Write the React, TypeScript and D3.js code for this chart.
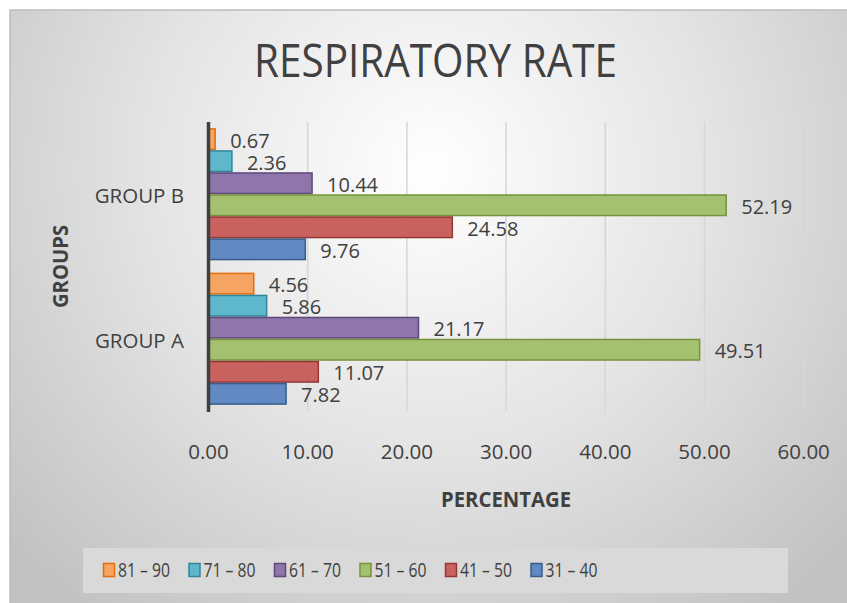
import React from "react";
import * as d3 from "d3";

const groups = ["GROUP B", "GROUP A"];
const seriesNames = ["81 – 90", "71 – 80", "61 – 70", "51 – 60", "41 – 50", "31 – 40"];
const groupB = [0.67, 2.36, 10.44, 52.19, 24.58, 9.76];
const groupA = [4.56, 5.86, 21.17, 49.51, 11.07, 7.82];
const xTicks = [0, 10, 20, 30, 40, 50, 60];
const fills = ["#F5A462", "#5FB7CC", "#8E75AB", "#A3C16E", "#C9625F", "#6189C3"];
const strokes = ["#E46C0A", "#31859C", "#5F497A", "#77933C", "#953735", "#385D8A"];

const W = 847;
const H = 603;
const FONT = "'Open Sans', 'DejaVu Sans', sans-serif";

export default function App() {
  const x = d3.scaleLinear().domain([0, 60]).range([208.5, 803.7]);
  const y0 = d3.scaleBand<string>().domain(groups).range([122, 411]).padding(0);
  const y1 = d3
    .scaleBand<string>()
    .domain(seriesNames)
    .range([0, y0.bandwidth()])
    .paddingInner(0)
    .paddingOuter(0.28);
  const dataByGroup: Record<string, number[]> = { "GROUP B": groupB, "GROUP A": groupA };
  const legendX = d3.scalePoint<string>().domain(seriesNames).range([103.5, 531]);

  return (
    <svg
      width={W}
      height={H}
      style={{ position: "absolute", left: 0, top: 0, fontFamily: FONT }}
    >
      <defs>
        <radialGradient id="bg" gradientUnits="userSpaceOnUse" cx={430} cy={170} r={560}>
          <stop offset="0" stopColor="#ffffff" />
          <stop offset="0.5" stopColor="#e4e4e4" />
          <stop offset="1" stopColor="#c2c2c2" />
        </radialGradient>
      </defs>
      <rect x={0} y={0} width={W} height={H} fill="#ffffff" />
      <rect x={10} y={10} width={W} height={H} fill="url(#bg)" stroke="#bdbdbd" strokeWidth={1.5} />

      {/* Title */}
      <text
        x={435.5}
        y={77}
        textAnchor="middle"
        fontSize={45}
        fill="#404040"
        textLength={363}
        lengthAdjust="spacingAndGlyphs"
      >
        RESPIRATORY RATE
      </text>

      {/* Gridlines */}
      {xTicks.slice(1).map((t) => (
        <line key={t} x1={x(t)} x2={x(t)} y1={122} y2={411} stroke="#d6d6d6" strokeWidth={1.5} />
      ))}

      {/* Bars */}
      {groups.map((g) => (
        <g key={g} transform={`translate(0,${y0(g)})`}>
          {seriesNames.map((s, i) => {
            const v = dataByGroup[g][i];
            const yy = y1(s)!;
            const bh = y1.bandwidth();
            return (
              <g key={s}>
                <rect
                  x={x(0)}
                  y={yy + 0.75}
                  width={x(v) - x(0)}
                  height={bh - 1.5}
                  fill={fills[i]}
                  stroke={strokes[i]}
                  strokeWidth={1.5}
                />
                <text
                  x={x(v) + 15}
                  y={yy + bh / 2 + 1}
                  dominantBaseline="central"
                  fontSize={20}
                  fill="#404040"
                >
                  {v.toFixed(2)}
                </text>
              </g>
            );
          })}
          <text
            x={184}
            y={y0.bandwidth() / 2 + 1}
            textAnchor="end"
            dominantBaseline="central"
            fontSize={20.5}
            fill="#404040"
          >
            {g}
          </text>
        </g>
      ))}

      {/* Axis line */}
      <line x1={x(0)} x2={x(0)} y1={122} y2={412} stroke="#404040" strokeWidth={3.5} />

      {/* X tick labels */}
      {xTicks.map((t) => (
        <text key={t} x={x(t)} y={459} textAnchor="middle" fontSize={20.5} fill="#404040">
          {t.toFixed(2)}
        </text>
      ))}

      {/* Axis titles */}
      <text
        x={506}
        y={507}
        textAnchor="middle"
        fontSize={20.5}
        fontWeight="bold"
        fill="#404040"
        textLength={130}
        lengthAdjust="spacingAndGlyphs"
      >
        PERCENTAGE
      </text>
      <text
        transform="translate(67.5,266.5) rotate(-90)"
        textAnchor="middle"
        fontSize={20.5}
        fontWeight="bold"
        fill="#404040"
        textLength={83}
        lengthAdjust="spacingAndGlyphs"
      >
        GROUPS
      </text>

      {/* Legend */}
      <rect x={83} y={548} width={705} height={45} fill="#d9d9d9" />
      {seriesNames.map((s, i) => (
        <g key={s} transform={`translate(${legendX(s)},0)`}>
          <rect x={0} y={563.5} width={11} height={13} fill={fills[i]} stroke={strokes[i]} strokeWidth={1.5} />
          <text
            x={14.5}
            y={577}
            fontSize={20}
            fill="#404040"
            textLength={52}
            lengthAdjust="spacingAndGlyphs"
          >
            {s}
          </text>
        </g>
      ))}
    </svg>
  );
}
